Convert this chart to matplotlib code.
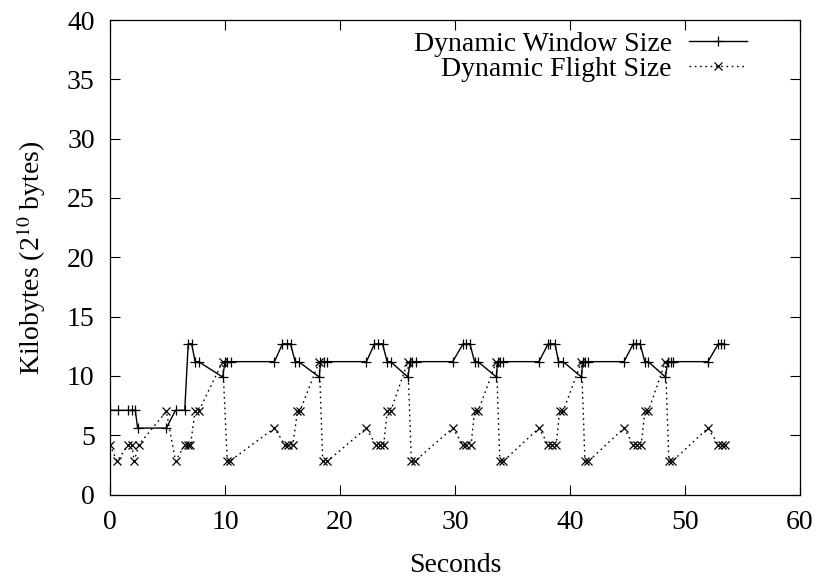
import matplotlib
matplotlib.use("Agg")
import matplotlib.pyplot as plt

# Dynamic window size (time in seconds, size in kilobytes)
window_t = [0.0, 0.7, 1.6, 1.9, 2.2, 2.4, 4.9, 5.7, 6.5, 6.8, 7.1, 7.4, 7.7, 9.8, 10.0, 10.2, 10.5,
            14.3, 15.0, 15.4, 15.7, 16.1, 16.4, 18.2, 18.3, 18.6, 18.9,
            22.3, 23.0, 23.3, 23.7, 24.1, 24.4, 25.9, 26.1, 26.3, 26.6,
            29.8, 30.7, 31.0, 31.3, 31.7, 32.0, 33.6, 33.7, 33.9, 34.2,
            37.3, 38.1, 38.3, 38.7, 39.0, 39.4, 41.0, 41.1, 41.3, 41.6,
            44.7, 45.5, 45.7, 46.1, 46.5, 46.8, 48.3, 48.5, 48.8, 49.0,
            52.0, 52.9, 53.1, 53.4]
window_kb = [7.1, 7.1, 7.1, 7.1, 7.1, 5.6, 5.6, 7.1, 7.1, 12.7, 12.7, 11.2, 11.2, 9.9, 11.2, 11.2, 11.2,
             11.2, 12.7, 12.7, 12.7, 11.2, 11.2, 9.9, 11.2, 11.2, 11.2,
             11.2, 12.7, 12.7, 12.7, 11.2, 11.2, 9.9, 11.2, 11.2, 11.2,
             11.2, 12.7, 12.7, 12.7, 11.2, 11.2, 9.9, 11.2, 11.2, 11.2,
             11.2, 12.7, 12.7, 12.7, 11.2, 11.2, 9.9, 11.2, 11.2, 11.2,
             11.2, 12.7, 12.7, 12.7, 11.2, 11.2, 9.9, 11.2, 11.2, 11.2,
             11.2, 12.7, 12.7, 12.7]

# Dynamic flight size
flight_t = [0.0, 0.6, 1.6, 1.9, 2.1, 2.5, 4.9, 5.7, 6.5, 6.8, 7.0, 7.4, 7.7, 9.8, 10.2, 10.4,
            14.3, 15.2, 15.5, 15.9, 16.3, 16.5, 18.2, 18.5, 18.9,
            22.3, 23.1, 23.5, 23.8, 24.1, 24.4, 25.9, 26.2, 26.5,
            29.8, 30.7, 31.0, 31.4, 31.7, 32.0, 33.6, 33.9, 34.2,
            37.3, 38.1, 38.4, 38.8, 39.1, 39.4, 41.0, 41.3, 41.6,
            44.7, 45.5, 45.8, 46.2, 46.5, 46.8, 48.3, 48.6, 48.9,
            52.0, 52.9, 53.2, 53.5]
flight_kb = [4.2, 2.8, 4.2, 4.2, 2.8, 4.2, 7.0, 2.8, 4.2, 4.2, 4.2, 7.0, 7.0, 11.2, 2.8, 2.8,
             5.6, 4.2, 4.2, 4.2, 7.0, 7.0, 11.2, 2.8, 2.8,
             5.6, 4.2, 4.2, 4.2, 7.0, 7.0, 11.2, 2.8, 2.8,
             5.6, 4.2, 4.2, 4.2, 7.0, 7.0, 11.2, 2.8, 2.8,
             5.6, 4.2, 4.2, 4.2, 7.0, 7.0, 11.2, 2.8, 2.8,
             5.6, 4.2, 4.2, 4.2, 7.0, 7.0, 11.2, 2.8, 2.8,
             5.6, 4.2, 4.2, 4.2]

x_ticks = [0, 10, 20, 30, 40, 50, 60]
y_ticks = [0, 5, 10, 15, 20, 25, 30, 35, 40]

plt.rcParams['font.family'] = ['Liberation Serif', 'DejaVu Serif']
plt.rcParams['mathtext.fontset'] = 'stix'
plt.rcParams['font.size'] = 20

fig = plt.figure(figsize=(8.2, 5.82), dpi=100)
ax = fig.add_axes([110 / 820, 1 - 494.5 / 582, 690 / 820, 474.5 / 582])

ax.plot(window_t, window_kb, color='black', linewidth=1.0, linestyle='-',
        marker='+', markersize=7, markeredgewidth=0.9, label='Dynamic Window Size')
ax.plot(flight_t, flight_kb, color='black', linewidth=1.0, linestyle=(0, (1.2, 2.6)),
        marker='x', markersize=6, markeredgewidth=0.9, label='Dynamic Flight Size')

ax.set_xlim(0, 60)
ax.set_ylim(0, 40)
ax.set_xticks(x_ticks)
ax.set_yticks(y_ticks)
ax.tick_params(direction='in', length=7, width=0.8, top=True, right=True, labelsize=20)
ax.tick_params(axis='x', pad=11)
ax.tick_params(axis='y', pad=11)
for s in ax.spines.values():
    s.set_linewidth(0.9)

ax.set_xlabel('Seconds', fontsize=20, labelpad=13)
ax.set_ylabel(r'Kilobytes (2$^{10}$ bytes)', fontsize=20, labelpad=14)

ax.legend(loc='upper right', bbox_to_anchor=((758 - 110) / 690, 1.0), frameon=False,
          markerfirst=False, numpoints=1, handlelength=2.1, handletextpad=0.6,
          labelspacing=0.0, borderaxespad=0, fontsize=20)

fig.savefig('out.png', dpi=100)
